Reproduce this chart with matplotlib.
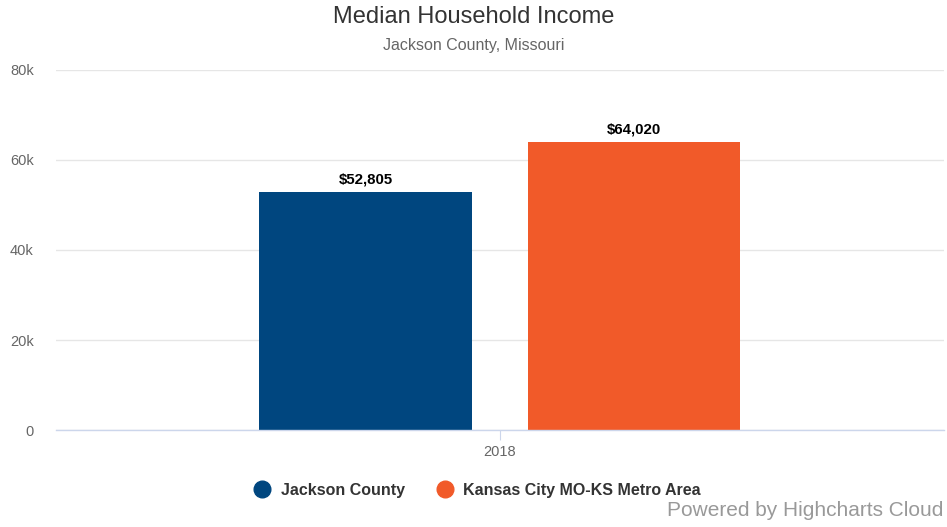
import matplotlib
matplotlib.use("Agg")
import matplotlib.pyplot as plt
from matplotlib.lines import Line2D

plt.rcParams['font.family'] = ['Liberation Sans', 'DejaVu Sans']

# data
series_names = ['Jackson County', 'Kansas City MO-KS Metro Area']
series_values = [52805, 64020]
series_colors = ['#00467F', '#F15A29']
category = '2018'
y_ticks = [0, 20000, 40000, 60000, 80000]
y_tick_labels = ['0', '20k', '40k', '60k', '80k']

fig = plt.figure(figsize=(9.47, 5.27), dpi=100)
ax = fig.add_axes([56 / 947, 1 - 430 / 527, 888 / 947, 360 / 527])

offsets = [-0.1515, 0.151]
bar_w = 0.239
for name, val, col, off in zip(series_names, series_values, series_colors, offsets):
    ax.bar(off, val, width=bar_w, color=col, zorder=3)
    ax.text(off, val + 1300, '${:,}'.format(val), ha='center', va='bottom',
            fontsize=10.8, fontweight='bold', color='#000000', zorder=4)

ax.set_xlim(-0.5, 0.5)
ax.set_ylim(0, 80000)
ax.set_yticks(y_ticks)
ax.set_yticklabels(y_tick_labels)
ax.set_xticks([0])
ax.set_xticklabels([category])
ax.grid(axis='y', color='#e6e6e6', linewidth=1, zorder=0)
for s in ['top', 'right', 'left']:
    ax.spines[s].set_visible(False)
ax.spines['bottom'].set_color('#ccd6eb')
ax.spines['bottom'].set_linewidth(1)
ax.spines['bottom'].set_zorder(5)
ax.tick_params(axis='y', length=0, labelsize=10.5, labelcolor='#666666', pad=16)
ax.tick_params(axis='x', length=7.5, color='#ccd6eb', labelsize=10.5,
               labelcolor='#666666', pad=3)

fig.text(0.5, 1 - 17 / 527, 'Median Household Income', ha='center', va='center',
         fontsize=17, color='#333333')
fig.text(0.5, 1 - 45 / 527, 'Jackson County, Missouri', ha='center', va='center',
         fontsize=11.5, color='#666666')

handles = [Line2D([], [], marker='o', linestyle='', markersize=12,
                  markerfacecolor=c, markeredgecolor=c) for c in series_colors]
leg = fig.legend(handles, series_names, loc='center', bbox_to_anchor=(0.5, 1 - 490 / 527),
                 ncol=2, frameon=False, handletextpad=0.15, columnspacing=1.5,
                 prop={'size': 11.5, 'weight': 'bold'})
for t in leg.get_texts():
    t.set_color('#333333')

fig.text(1 - 4 / 947, 1 - 511 / 527, 'Powered by Highcharts Cloud', ha='right',
         va='center', fontsize=15, color='#999999')

fig.savefig('out.png', dpi=100)
